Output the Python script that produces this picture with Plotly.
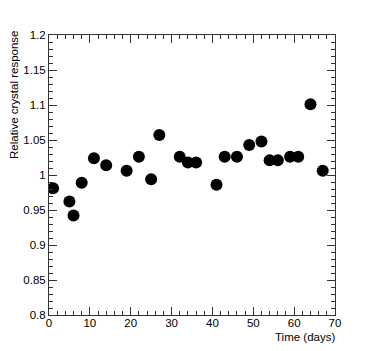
import plotly.graph_objects as go

days = [1, 5, 6, 8, 11, 14, 19, 22, 25, 27, 32, 34, 36, 41, 43, 46, 49, 52, 54, 56, 59, 61, 64, 67]
response = [0.981, 0.962, 0.942, 0.989, 1.024, 1.014, 1.006, 1.026, 0.994, 1.057, 1.026, 1.018,
            1.018, 0.986, 1.026, 1.026, 1.043, 1.048, 1.021, 1.021, 1.026, 1.026, 1.101, 1.006]

x_ticks = [0, 10, 20, 30, 40, 50, 60, 70]
y_ticks = [0.8, 0.85, 0.9, 0.95, 1.0, 1.05, 1.1, 1.15, 1.2]
y_labels = ["0.8", "0.85", "0.9", "0.95", "1", "1.05", "1.1", "1.15", "1.2"]

font = dict(family="Liberation Sans, Arial, sans-serif", size=11.5, color="black")

fig = go.Figure(go.Scatter(
	x=days,
	y=response,
	mode="markers",
	marker=dict(color="black", size=12),
))

axis_style = dict(
	showgrid=False,
	zeroline=False,
	showline=True,
	linecolor="#333",
	linewidth=1,
	mirror="ticks",
	ticks="inside",
	ticklen=8,
	tickcolor="#333",
	tickfont=font,
)

fig.update_xaxes(
	range=[0, 70],
	tickvals=x_ticks,
	ticklabelstandoff=-3,
	minor=dict(dtick=2, ticks="inside", ticklen=4, tickcolor="#333"),
	**axis_style,
)
fig.update_yaxes(
	range=[0.8, 1.2],
	tickvals=y_ticks,
	ticktext=y_labels,
	minor=dict(dtick=0.01, ticks="inside", ticklen=4, tickcolor="#333"),
	**axis_style,
)

# page body adds an 8px offset, so the figure is a bit smaller than the window
fig.update_layout(
	width=366,
	height=343,
	margin=dict(l=41, r=39, t=27, b=36),
	plot_bgcolor="white",
	paper_bgcolor="white",
	showlegend=False,
	font=font,
	annotations=[
		dict(text="Time (days)", xref="paper", yref="paper", x=1, y=0,
			xanchor="right", yanchor="top", yshift=-14, xshift=2, showarrow=False, font=font),
		dict(text="Relative crystal response", xref="paper", yref="paper", x=0, y=1,
			xanchor="right", yanchor="top", xshift=-27, yshift=6, textangle=-90, showarrow=False, font=font),
	],
)

fig.write_html("out.html")
